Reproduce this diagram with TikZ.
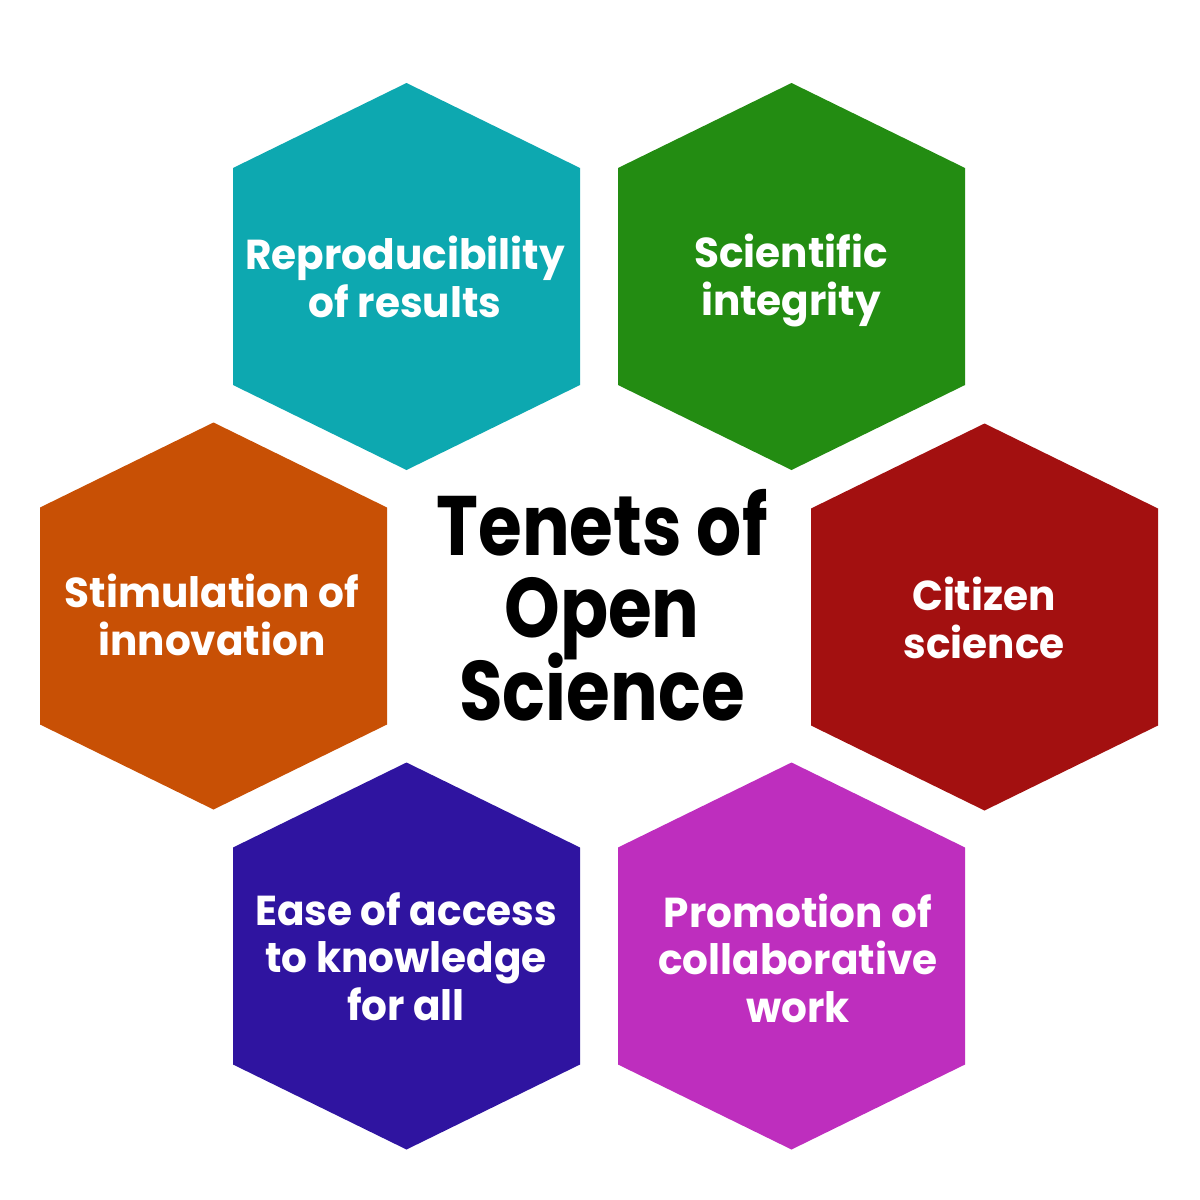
\documentclass[tikz,border=0pt]{standalone}
\usepackage{fontspec}
\setmainfont{Poppins}
\newfontfamily\titlefont{Poppins}[FakeStretch=0.84]
\newfontfamily\hexfont{Poppins}[FakeStretch=0.97]
\newcommand\tightlines{\lineskiplimit-50pt\relax}
\definecolor{cteal}{RGB}{13,168,176}
\definecolor{cgreen}{RGB}{35,140,18}
\definecolor{corange}{RGB}{200,80,5}
\definecolor{cred}{RGB}{163,16,16}
\definecolor{cindigo}{RGB}{47,20,160}
\definecolor{cmagenta}{RGB}{190,46,190}
\tikzset{
  hextext/.style={text=white, align=center, anchor=base, inner sep=0pt,
    font={\hexfont\fontsize{11.9}{13.4}\selectfont\bfseries\tightlines}},
  titletext/.style={text=black, align=center, anchor=base, inner sep=0pt,
    font={\titlefont\fontsize{24}{23.4}\selectfont\bfseries\tightlines}}
}
\newcommand{\hexfill}[3]{%
  \fill[#1] ($(#2,#3)+(0,-193.5)$) -- ++(173.5,85) -- ++(0,217) -- ++(-173.5,85)
    -- ++(-173.5,-85) -- ++(0,-217) -- cycle;}
\usetikzlibrary{calc}
\begin{document}
\begin{tikzpicture}[x=0.01cm,y=-0.01cm]
\useasboundingbox (0,0) rectangle (1200,1200);
\fill[white] (0,0) rectangle (1200,1200);
\hexfill{cteal}{406.5}{276.5}
\hexfill{cgreen}{791.5}{276.5}
\hexfill{corange}{213.5}{616}
\hexfill{cred}{984.5}{617}
\hexfill{cindigo}{406.5}{956}
\hexfill{cmagenta}{791.5}{956}
\node[hextext] (t1) at (405,317) {Reproducibility\\of results};
\node[hextext] (t2) at (791,315) {Scientific\\integrity};
\node[hextext] (t3) at (212,655) {Stimulation of\\innovation};
\node[hextext] (t4) at (984,658) {Citizen\\science};
\node[hextext] (t5) at (406,1020) {Ease of access\\to knowledge\\for all};
\node[hextext] (t6) at (798,1022) {Promotion of\\collaborative\\work};
\node[titletext] (title) at (602,720) {Tenets of\\Open\\Science};
\end{tikzpicture}
\end{document}
